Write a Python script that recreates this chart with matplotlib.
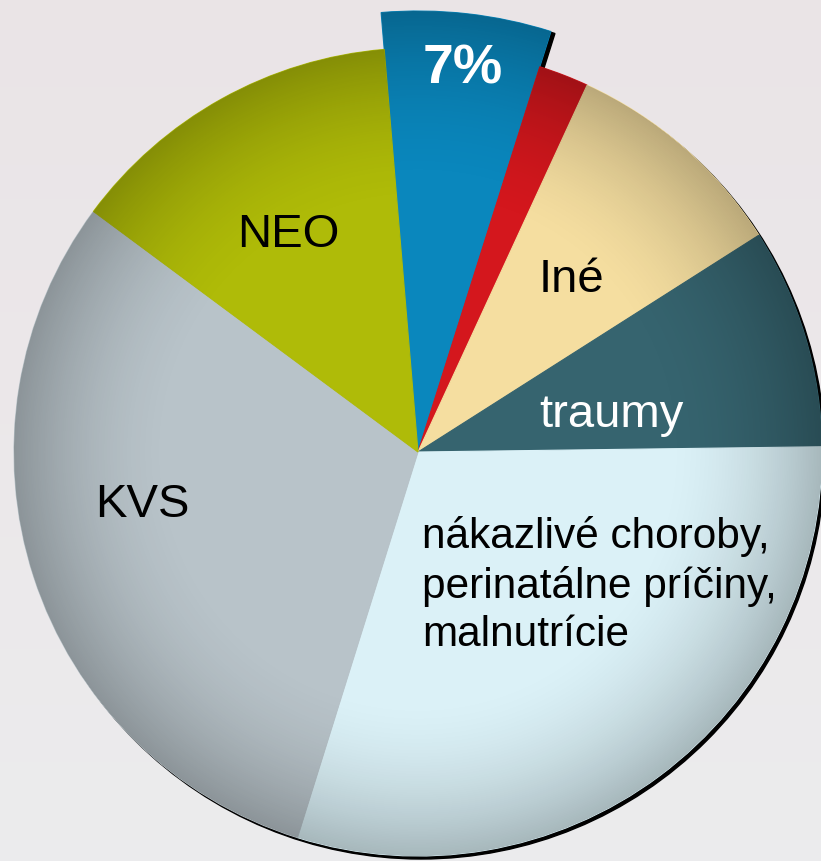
import numpy as np
import matplotlib.pyplot as plt
from matplotlib.patches import Wedge, Circle

# Pie data, clockwise from the highlighted slice
labels = ['7%', '', 'Iné', 'traumy',
          'nákazlivé choroby,\nperinatálne príčiny,\nmalnutrície', 'KVS', 'NEO']
shares = [6.2, 2.0, 9.1, 8.8, 30.0, 30.3, 13.5]
colors = ['#0a87bd', '#d4171d', '#f5dea0', '#36646f', '#dbf1f7', '#b8c3c9', '#afbb08']
text_colors = ['white', 'black', 'black', 'white', 'black', 'black', 'black']

# Label layout (pixel coords, y from top): x, y, horizontal align, vertical align, size, weight
label_pos = [(463, 83, 'center', 'baseline', 40, 'bold'),
             None,
             (571, 292, 'center', 'baseline', 34, 'normal'),
             (611, 427, 'center', 'baseline', 34, 'normal'),
             (422, 516, 'left', 'top', 30.5, 'normal'),
             (142, 517, 'center', 'baseline', 34, 'normal'),
             (288, 247, 'center', 'baseline', 34, 'normal')]

W, H = 821, 862
cx, cy, R = 418, H - 453, 404
R_big = 441

plt.rcParams['font.family'] = ['Liberation Sans', 'DejaVu Sans']

fig = plt.figure(figsize=(W / 100, H / 100), dpi=100)
ax = fig.add_axes([0, 0, 1, 1])

# background: soft light gray
bg = np.linspace(0, 1, H)[:, None] * np.ones((1, W))
top = np.array([0.925, 0.925, 0.93])
bot = np.array([0.92, 0.895, 0.905])
bg_img = top[None, None, :] * (1 - bg[..., None]) + bot[None, None, :] * bg[..., None]
ax.imshow(bg_img, extent=(0, W, H, 0), origin='upper', zorder=0, aspect='auto')

wedges, _ = ax.pie(shares, colors=colors, startangle=94.8, counterclock=False,
                   radius=R, center=(cx, cy), frame=True,
                   wedgeprops=dict(linewidth=0, zorder=1))
wedges[0].set_radius(R_big)
for w in wedges:
    w.set_edgecolor(w.get_facecolor())
    w.set_linewidth(0.8)

# drop shadow
ax.add_patch(Circle((cx + 3, cy - 3), R, color='black', zorder=0.5))
ax.add_patch(Wedge((cx + 4, cy - 2), R_big, wedges[0].theta1, wedges[0].theta2,
                   color='black', zorder=0.5))

# radial darkening towards the rim of every slice
yy, xx = np.mgrid[0:H, 0:W]
rr = np.hypot(xx + 0.5 - cx, yy + 0.5 - cy)
for w in wedges:
    rad = w.r
    a = np.clip((rr / rad - 0.6) / 0.4, 0, 1) ** 1.8 * 0.24
    shade = np.zeros((H, W, 4))
    shade[..., 3] = a
    im = ax.imshow(shade, extent=(0, W, 0, H), origin='lower', zorder=1.5, aspect='auto')
    im.set_clip_path(w)

for lab, pos, tc in zip(labels, label_pos, text_colors):
    if pos is None or not lab:
        continue
    x, y, ha, va, size, weight = pos
    ax.text(x, H - y, lab, ha=ha, va=va, fontsize=size, color=tc,
            fontweight=weight, linespacing=1.27, zorder=3)

ax.set_xlim(0, W)
ax.set_ylim(0, H)
ax.axis('off')

fig.savefig('out.png', dpi=100)
